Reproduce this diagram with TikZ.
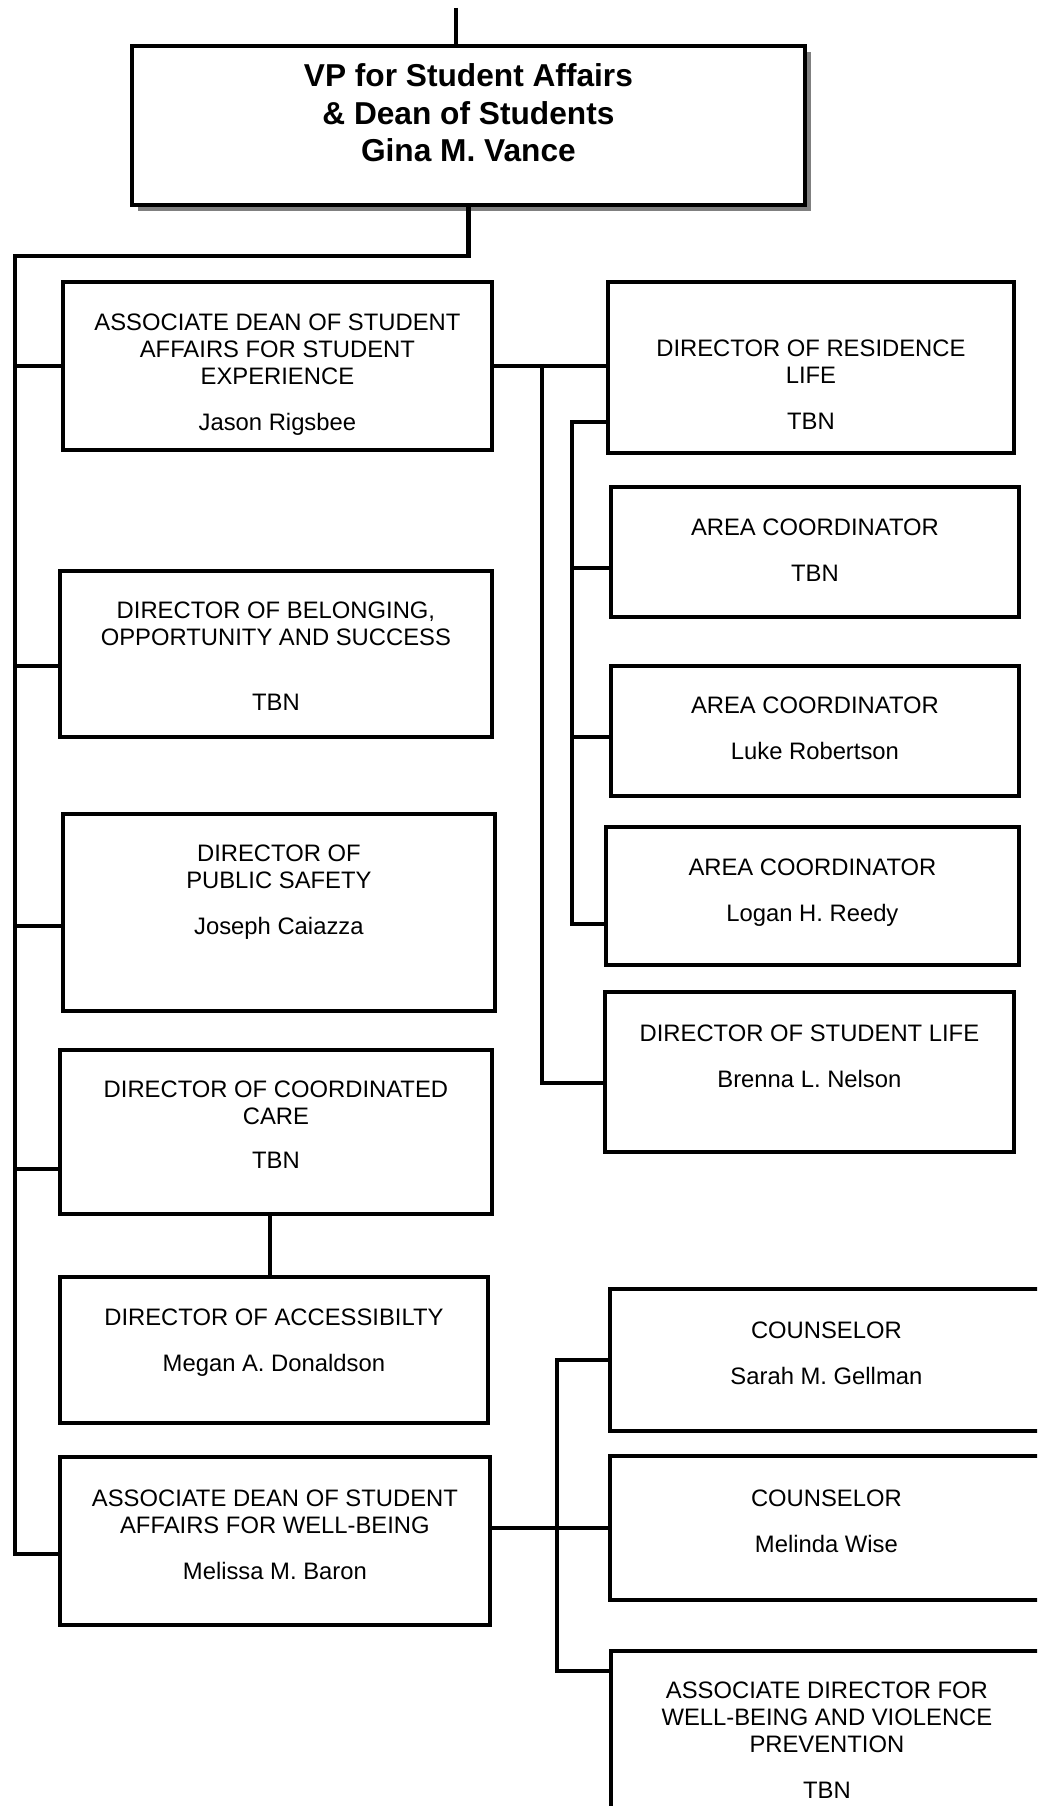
\documentclass[tikz,border=0pt]{standalone}
\usepackage{fontspec}
\setmainfont{Liberation Sans}
\usetikzlibrary{shadows}
\newcommand\pxu{0.42pt}

\begin{document}
\begin{tikzpicture}[x=0.42pt, y=-0.42pt,
  post box/.style 2 args={draw, line width=1.6pt, fill=white, anchor=north west,
    inner sep=0pt, minimum width=#1*\pxu, minimum height=#2*\pxu},
  txt/.style={align=center, inner sep=0pt, anchor=north, font=\fontsize{10}{11.34}\selectfont},
  link/.style={line width=2pt}]
\useasboundingbox (0,0) rectangle (1037,1806);
\clip (0,0) rectangle (1037,1806);

% top of the chart
\coordinate (top) at (456,8);
\node[post box={673}{159}, drop shadow={shadow xshift=6*\pxu, shadow yshift=-6*\pxu, fill=black!50, opacity=1}] (vp) at (130,44) {};
\node[txt, font=\bfseries\fontsize{13.3}{15.75}\selectfont] (vp-t) at ([yshift=-19.5*\pxu]vp.north)
  {VP for Student Affairs\\ \& Dean of Students\\ Gina M. Vance};

% left column
\node[post box={429}{168}] (ade) at (61,280) {};
\node[txt] (ade-t) at ([yshift=-33.5*\pxu]ade.north)
  {ASSOCIATE DEAN OF STUDENT\\ AFFAIRS FOR STUDENT\\ EXPERIENCE\\[8pt] Jason Rigsbee};
\node[post box={432}{166}] (dbos) at (58,569) {};
\node[txt] (dbos-t) at ([yshift=-32.5*\pxu]dbos.north)
  {DIRECTOR OF BELONGING,\\ OPPORTUNITY AND SUCCESS\\[16pt] TBN};
\node[post box={432}{197}] (dps) at (61,812) {};
\node[txt] (dps-t) at ([yshift=-32.5*\pxu]dps.north)
  {DIRECTOR OF\\ PUBLIC SAFETY\\[8pt] Joseph Caiazza};
\node[post box={432}{164}] (dcc) at (58,1048) {};
\node[txt] (dcc-t) at ([yshift=-32.5*\pxu]dcc.north)
  {DIRECTOR OF COORDINATED\\ CARE\\[7pt] TBN};
\node[post box={428}{146}] (da) at (58,1275) {};
\node[txt] (da-t) at ([yshift=-33.5*\pxu]da.north)
  {DIRECTOR OF ACCESSIBILTY\\[8pt] Megan A. Donaldson};
\node[post box={430}{168}] (adw) at (58,1455) {};
\node[txt] (adw-t) at ([yshift=-34.5*\pxu]adw.north)
  {ASSOCIATE DEAN OF STUDENT\\ AFFAIRS FOR WELL-BEING\\[8pt] Melissa M. Baron};

% right column
\node[post box={406}{171}] (drl) at (606,280) {};
\node[txt] (drl-t) at ([yshift=-59.5*\pxu]drl.north)
  {DIRECTOR OF RESIDENCE\\ LIFE\\[8pt] TBN};
\node[post box={408}{130}] (ac1) at (609,485) {};
\node[txt] (ac1-t) at ([yshift=-33.5*\pxu]ac1.north) {AREA COORDINATOR\\[8pt] TBN};
\node[post box={408}{130}] (ac2) at (609,664) {};
\node[txt] (ac2-t) at ([yshift=-32.5*\pxu]ac2.north) {AREA COORDINATOR\\[8pt] Luke Robertson};
\node[post box={413}{138}] (ac3) at (604,825) {};
\node[txt] (ac3-t) at ([yshift=-33.5*\pxu]ac3.north) {AREA COORDINATOR\\[8pt] Logan H. Reedy};
\node[post box={409}{160}] (dsl) at (603,990) {};
\node[txt] (dsl-t) at ([yshift=-34.5*\pxu]dsl.north) {DIRECTOR OF STUDENT LIFE\\[8pt] Brenna L. Nelson};
\node[post box={433}{142}] (cs1) at (608,1287) {};
\node[txt] (cs1-t) at ([yshift=-34.5*\pxu]cs1.north) {COUNSELOR\\[8pt] Sarah M. Gellman};
\node[post box={433}{144}] (cs2) at (608,1454) {};
\node[txt] (cs2-t) at ([yshift=-35.5*\pxu]cs2.north) {COUNSELOR\\[8pt] Melinda Wise};
\node[post box={432}{191}] (adv) at (609,1649) {};
\node[txt] (adv-t) at ([yshift=-32.5*\pxu]adv.north)
  {ASSOCIATE DIRECTOR FOR\\ WELL-BEING AND VIOLENCE\\ PREVENTION\\[8pt] TBN};

% reporting lines
\coordinate (t0) at (15,256);
\coordinate (rl) at (542,364);
\coordinate (ra) at (572,422);
\coordinate (rc) at (557,1671);
\draw[link] (top) -- (top |- vp.north);
\draw[link] (vp.south) |- (t0) |- ([yshift=-13*\pxu]adw.west);
\draw[link] (ade.west) -| (t0);
\draw[link] ([yshift=-12*\pxu]dbos.west) -| (t0);
\draw[link] ([yshift=-13.5*\pxu]dps.west) -| (t0);
\draw[link] ([yshift=-37*\pxu]dcc.west) -| (t0);
\draw[link] ([xshift=-6*\pxu]dcc.south) -- ([xshift=-4*\pxu]da.north);
\draw[link] (ade.east) -- (ade.east -| drl.west);
\draw[link] (rl) |- ([yshift=-11*\pxu]dsl.west);
\draw[link] (ra -| drl.west) -- (ra) |- ([yshift=-28*\pxu]ac3.west);
\draw[link] ([yshift=-16*\pxu]ac1.west) -| (ra);
\draw[link] ([yshift=-6*\pxu]ac2.west) -| (ra);
\draw[link] (cs2.west) -- (cs2.west -| adw.east);
\draw[link] (cs1.west) -| (rc) -- (rc -| adv.west);
\end{tikzpicture}
\end{document}
